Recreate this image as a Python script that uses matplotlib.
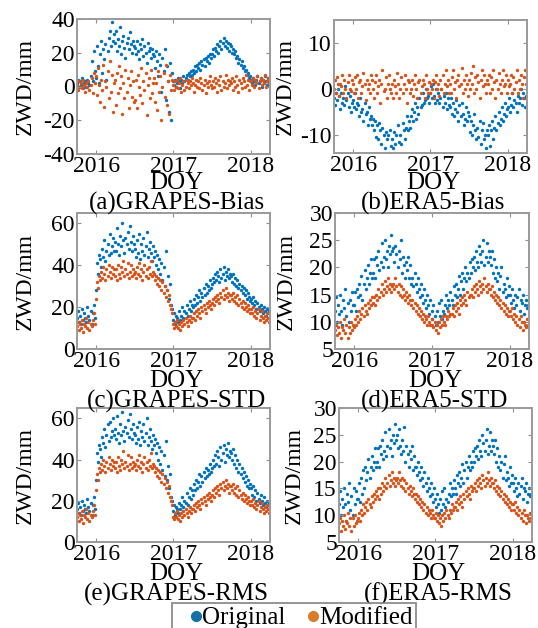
import numpy as np
import pandas as pd
import matplotlib
matplotlib.use("Agg")
import matplotlib.pyplot as plt
from matplotlib.lines import Line2D

plt.rcParams['font.family'] = ['Liberation Serif', 'DejaVu Serif']
plt.rcParams['axes.unicode_minus'] = False

# ---------------- data: samples every 5 days from 2015-10-01 ----------------
grapes_bias_orig = [
    2, 4, 0, 3, 1, 5, -1, 2, 3, 0, 4, 2, 1, 6, 15, 3, 21, 9,
    5, 24, 12, 2, 19, 27, 8, 22, 16, 25, 4, 21, 29, 33, 24, 38, 27, 31,
    26, 33, 21, 28, 24, 35, 19, 27, 30, 23, 17, 26, 29, 22, 32, 25, 20, 27, 24,
    23, 19, 27, 21, 16, 25, 22, 28, 18, 24, 20, 14, 26, 21, 23, 17, 22, 19,
    18, 11, 21, 15, 6, 19, 13, -3, 17, 9, 22, -8, 12, 3, -15, 14, -20, 8,
    3, 1, 4, 0, 2, 5, 3, -1, 4, 2, 6, 3, 5, 7, 4, 8, 6, 9, 7,
    10, 8, 12, 9, 13, 11, 14, 10, 15, 13, 16, 12, 17, 15, 18, 14, 19, 17,
    19, 22, 18, 23, 21, 25, 20, 24, 27, 22, 26, 29, 24, 27, 23, 26, 21, 25,
    24, 20, 22, 19, 21, 17, 18, 14, 16, 13, 15, 11, 12, 9, 10, 7, 8, 5, 6,
    4, 2, 5, 3, 1, 4, 6, 2, 3, 5, 0, 4, 2, 6, 3, 1, 5, 3]
grapes_bias_mod = [
    1, -2, 3, 0, 2, -1, 4, 1, -3, 2, 0, 3, -2, 1, 5, -4, 8, 2,
    6, -5, 11, 1, -9, 4, -2, 13, -12, 3, 0, 9, -7, 15, -3, 7, -15, 2,
    4, -11, 8, -4, 12, -1, 6, -16, 2, -7, 10, -3, 5, -13, 1, 9, -6, 3, -9,
    -8, 4, -13, 7, 0, -5, 11, -10, 3, -2, 8, -17, 1, 5, -7, 10, -4, 2,
    5, -9, 2, -14, 9, -3, 6, -20, 0, 8, -6, 13, -11, 3, -16, 7, -2, 4,
    1, -2, 3, 0, 4, -1, 2, 5, -3, 1, 3, -2, 0, 4, 2, -1, 3, 1, 5,
    2, -3, 1, 4, 0, 3, -1, 5, 2, -2, 1, 4, -4, 2, 0, 3, 6, 1,
    -1, 3, 0, 5, 2, -3, 4, 1, 6, -2, 3, 0, 2, 7, -1, 4, 1, 3,
    2, 5, -2, 3, 0, 6, 1, -3, 4, 2, -1, 5, 3, 0, 7, 1, 4, -2, 3,
    3, 1, 5, 0, 4, 2, 6, -1, 3, 5, 1, 4, 2, 7, 0, 3, 5, 2]

era5_bias_orig = [
    -2, -3.5, -1, -2.5, 0, -1.5, -4.5, -1, -3, -2, -3.5, 0.5, -2.5, -1, -4, -1.5, -5, -3,
    -2.5, -4, -1, -4.5, -3, -3.5, -6, -2, -5, -4.5, -7, -3, -5.5, -5, -8, -4, -6.5, -6,
    -8, -6.5, -9, -7, -10.5, -8, -11, -7.5, -9, -12, -8.5, -10, -13, -9.5, -11, -10, -14, -9, -12.5,
    -11, -13, -9.5, -12, -10, -14.5, -8, -11.5, -10, -12, -7.5, -9, -11, -8.5, -6, -9, -7, -8.5,
    -6, -4.5, -7, -5, -3, -6.5, -4, -5.5, -2, -4, -3.5, -1, -3, -2.5, 0, -2, -1.5, -3,
    -1, 0.5, -2, 1, -1.5, -3, 0, -2.5, -1, -3, -2, 0, -4, -1.5, -3, -1, -4.5, -2, -3.5,
    -4, -2, -5.5, -3, -6, -4.5, -2.5, -5, -7, -3.5, -6, -3, -5.5, -8, -6.5, -4, -7, -5,
    -6, -9.5, -7, -10, -8, -5.5, -9, -11, -8.5, -10.5, -7, -12, -9, -7.5, -11, -10, -13, -9,
    -10, -8, -12.5, -9, -7, -11, -8.5, -6, -9, -7.5, -5, -8, -6.5, -4, -7, -5.5, -3, -6, -4.5,
    -4, -2, -5, -3.5, -1, -4, -2.5, -3, -5, -1.5, -3, -2, 0, -3.5, -1, -2, -4, -1.5]
era5_bias_mod = [
    0, 2, -1, 2.5, 1, -1.5, 1, 0.5, 3, -1, 2, 0, -2, 1.5, 3, 0, -0.5, 2,
    1, -1, 2.5, 0, 3, -2, 1.5, 2, -1, 0.5, 3.5, 1, -2.5, 2, 0, 1, -1, 3,
    2, 0, -2, 1.5, 3, -1, 0.5, 2, -3, 1, 4, -0.5, 0, 2.5, -2, 1, 3, 0, -1,
    1, -2, 2, 0.5, -1, 3.5, 1, -2, 0, 2.5, -1, 1, 3, 0, -3, 2, 1.5, -1,
    0, 2, -1.5, 1, 3, 0, -2, 1.5, 2, -1, 0.5, 2, 1, -2, 3, 0, -1, 1.5,
    -1, 1, 0, 2, -2, 1.5, 3, 0, 1, -1.5, 2, 0, 3, -1, 1, 4, 0.5, 2, -1,
    1, -1, 2.5, 4, 0, 1.5, -2, 2, 3, 0.5, 1, 4.5, -1, 2, 0, 3, 1, -1.5,
    2, 0, 3.5, 1, 5, -1, 2.5, 0, 3, 1.5, -2, 2, 4, 0.5, 3, 1, -1, 2,
    1, 3, -1, 2.5, 0, 4, 1.5, -2, 2, 0, 3.5, 1, -1, 2, 4, 0.5, 1, 3, -1,
    2, 0.5, 1, 3, -1, 2.5, 0, 1.5, 4, -1, 2, 0, 3, 1, -2, 2.5, 4, 1]

grapes_std_orig = [
    15, 18, 13, 16, 12, 19, 14, 17, 15, 13, 20, 16, 14, 18, 12, 17, 21, 15,
    28, 41, 36, 45, 43, 39, 48, 44, 52, 42, 47, 50, 45, 55, 46, 49, 53, 47,
    51, 47, 58, 50, 45, 54, 49, 60, 52, 46, 53, 50, 56, 48, 59, 51, 47, 54, 50,
    48, 44, 52, 46, 55, 43, 50, 47, 53, 45, 49, 56, 44, 48, 51, 46, 42, 49,
    44, 47, 40, 45, 38, 43, 36, 41, 33, 39, 30, 47, 28, 35, 24, 31, 21, 19,
    14, 17, 12, 16, 15, 13, 18, 14, 16, 20, 15, 18, 17, 21, 16, 19, 23, 18, 21,
    20, 24, 21, 26, 22, 25, 28, 23, 27, 25, 29, 26, 31, 27, 30, 28, 33, 29,
    31, 34, 32, 36, 33, 37, 35, 32, 38, 34, 36, 39, 33, 37, 35, 38, 34, 36,
    35, 32, 36, 31, 34, 30, 33, 29, 31, 28, 30, 27, 29, 26, 28, 24, 27, 25, 23,
    24, 22, 25, 21, 23, 19, 22, 20, 18, 21, 19, 17, 20, 18, 16, 19, 17, 18]
grapes_std_mod = [
    11, 13, 9, 12, 10, 14, 8, 12, 11, 15, 10, 13, 9, 12, 11, 14, 17, 12,
    24, 32, 29, 35, 33, 37, 34, 39, 36, 33, 38, 35, 40, 37, 34, 39, 36, 38,
    35, 38, 33, 40, 36, 34, 39, 37, 42, 35, 38, 36, 41, 34, 37, 40, 35, 38, 36,
    37, 34, 39, 36, 41, 35, 38, 33, 37, 40, 35, 38, 34, 39, 36, 42, 35, 37,
    36, 33, 35, 31, 34, 30, 33, 28, 32, 27, 30, 25, 28, 23, 26, 21, 19, 17,
    12, 10, 13, 11, 14, 10, 12, 9, 13, 11, 14, 12, 15, 13, 11, 14, 16, 13, 15,
    15, 17, 14, 18, 16, 19, 17, 15, 20, 18, 21, 19, 17, 22, 20, 23, 21, 19,
    22, 24, 21, 25, 23, 26, 24, 22, 27, 25, 28, 24, 26, 29, 25, 27, 23, 26,
    26, 24, 27, 23, 25, 22, 26, 21, 24, 22, 20, 23, 19, 22, 20, 18, 21, 19, 17,
    19, 17, 20, 16, 18, 15, 17, 19, 14, 16, 18, 15, 13, 16, 14, 17, 15, 13]

era5_std_orig = [
    12, 14.5, 10, 13, 11.5, 15, 12, 9.5, 14, 12.5, 16, 11, 13.5, 10, 14, 12, 15.5, 13,
    13, 15.5, 12, 16, 14.5, 17, 15, 18.5, 14, 17, 19.5, 16, 18, 20.5, 17, 19, 21.5, 18,
    19, 21.5, 18, 22, 20.5, 23, 19.5, 21, 24.5, 20, 22, 25, 21.5, 23, 20, 24, 22.5, 26, 23,
    23.5, 21, 24, 22.5, 20, 23, 21.5, 25, 19, 22, 20.5, 18, 21, 19.5, 22, 18, 20.5, 17,
    18, 16.5, 19, 17, 15.5, 18, 16, 14.5, 17, 15, 13.5, 16, 14, 12.5, 15, 13, 11.5, 14,
    12, 10.5, 13, 11, 9.5, 12, 10, 13.5, 11, 14, 10.5, 12, 11.5, 13, 15, 12.5, 14, 13, 15.5,
    14, 13, 16.5, 15, 17, 14.5, 16, 18.5, 15, 17.5, 19, 16, 18, 20, 17.5, 19, 18, 21,
    19, 21.5, 20, 22, 19.5, 23, 21, 20, 24, 22.5, 21, 23, 25, 20.5, 22, 24.5, 21, 23,
    22, 20.5, 23, 19, 21.5, 18, 20, 17.5, 19, 16, 18.5, 20, 15.5, 17, 16, 14.5, 18, 15, 16.5,
    15, 13.5, 16, 14, 12.5, 15, 13, 14.5, 16, 12, 14, 13.5, 15, 11.5, 13, 14, 12.5, 13]
era5_std_mod = [
    8.5, 9.5, 7.5, 9, 8, 10, 7, 9, 8.5, 10.5, 8, 9.5, 7, 9, 8, 10, 8.5, 9.5,
    9, 10.5, 9.5, 11, 10, 12, 10.5, 11.5, 12.5, 11, 13, 12, 11.5, 13.5, 12.5, 14, 13, 14.5,
    13.5, 14.5, 13, 15, 14, 16, 14.5, 15.5, 17, 15, 16, 17.5, 15.5, 16.5, 18, 16, 17, 15.5, 16.5,
    17, 16, 18, 16.5, 15.5, 17, 15, 16.5, 14.5, 16, 15, 14, 15.5, 14.5, 13.5, 15, 14, 13,
    14, 12.5, 13.5, 12, 13, 11.5, 12.5, 11, 12, 10.5, 11.5, 10, 11, 10.5, 9.5, 11, 10, 9.5,
    9.5, 10.5, 9, 10, 8.5, 9.5, 8, 10, 9, 10.5, 9.5, 11, 10, 9.5, 11, 10.5, 12, 11, 11.5,
    11.5, 12.5, 11, 13, 12, 13.5, 12.5, 11.5, 14, 13, 14.5, 13.5, 15, 14, 13, 15.5, 14.5, 15,
    15, 16, 14.5, 16.5, 15.5, 17, 16, 15, 17.5, 16.5, 15.5, 17, 16, 18, 16.5, 15.5, 17, 16,
    16, 15, 16.5, 14.5, 15.5, 14, 15, 13.5, 14.5, 13, 14, 12.5, 13.5, 12, 13, 11.5, 12.5, 11, 12,
    12, 11, 12.5, 10.5, 11.5, 10, 11, 9.5, 10.5, 9, 11, 10, 8.5, 10, 9.5, 9, 10.5, 9.5]

grapes_rms_orig = [
    16, 19, 14, 17, 13, 20, 15, 18, 16, 14, 21, 17, 15, 19, 13, 18, 22, 16,
    30, 43, 39, 47, 45, 41, 51, 48, 55, 46, 52, 57, 49, 58, 51, 54, 60, 52,
    55, 50, 61, 53, 48, 57, 52, 63, 54, 49, 56, 53, 59, 51, 62, 55, 50, 57, 53,
    52, 48, 56, 50, 58, 47, 54, 51, 57, 49, 53, 60, 47, 51, 55, 49, 45, 52,
    47, 50, 43, 48, 40, 46, 38, 44, 35, 42, 32, 49, 30, 37, 26, 33, 22, 20,
    15, 18, 13, 17, 16, 14, 19, 16, 18, 22, 17, 20, 19, 24, 18, 22, 26, 21, 25,
    23, 28, 25, 30, 26, 29, 33, 27, 32, 29, 34, 31, 36, 32, 35, 33, 38, 34,
    36, 40, 37, 42, 38, 44, 41, 37, 46, 40, 43, 47, 39, 45, 42, 48, 41, 44,
    43, 40, 45, 38, 42, 36, 40, 34, 38, 33, 36, 31, 34, 29, 32, 27, 30, 26, 28,
    26, 23, 27, 22, 25, 20, 24, 21, 19, 23, 20, 18, 22, 19, 17, 20, 18, 19]
grapes_rms_mod = [
    12, 14, 10, 13, 11, 15, 9, 13, 12, 16, 11, 14, 10, 13, 12, 15, 18, 13,
    25, 33, 30, 36, 34, 38, 35, 40, 37, 34, 39, 36, 41, 38, 35, 40, 37, 39,
    36, 39, 34, 41, 37, 35, 40, 38, 44, 36, 39, 37, 42, 35, 38, 41, 36, 39, 37,
    38, 35, 40, 37, 42, 36, 39, 34, 38, 41, 36, 39, 35, 40, 37, 43, 36, 38,
    37, 34, 36, 32, 35, 31, 34, 29, 33, 28, 31, 26, 29, 24, 27, 22, 20, 18,
    12, 11, 14, 12, 15, 11, 13, 10, 14, 12, 15, 13, 16, 14, 12, 15, 17, 14, 16,
    16, 18, 15, 19, 17, 20, 18, 16, 21, 19, 22, 20, 18, 23, 21, 24, 22, 20,
    23, 25, 22, 26, 24, 27, 25, 23, 28, 26, 29, 25, 27, 30, 26, 28, 24, 27,
    27, 25, 28, 24, 26, 23, 27, 22, 25, 23, 21, 24, 20, 23, 21, 19, 22, 20, 18,
    20, 18, 21, 17, 19, 16, 18, 20, 15, 17, 19, 16, 14, 17, 15, 18, 16, 14]

era5_rms_orig = [
    12, 14.5, 10, 13, 11.5, 15, 12, 9, 14, 12.5, 16, 11, 13.5, 10, 15, 12, 14.5, 13,
    13, 16, 12.5, 17, 14, 18.5, 15, 19, 16.5, 18, 20.5, 17, 19, 21, 18.5, 20, 22.5, 19,
    20, 22.5, 19, 23, 21.5, 24, 20.5, 22, 25.5, 21, 23, 26, 22.5, 24, 21, 25, 23.5, 27, 24,
    25, 22.5, 26, 23, 21.5, 24, 22, 26.5, 20, 23, 21.5, 19, 22, 20.5, 23, 18.5, 21, 19,
    19, 17.5, 20, 18, 16.5, 19, 17, 15.5, 18, 16, 14.5, 17, 15, 13.5, 16, 14, 12.5, 15,
    13, 11.5, 14, 12, 10.5, 13, 11, 14.5, 12, 15, 11.5, 13, 12.5, 14, 16, 13.5, 15, 14, 16.5,
    15, 14, 17.5, 16, 18, 15.5, 17, 19.5, 16, 18.5, 20, 17, 19, 21, 18.5, 20, 19, 22,
    20, 22.5, 21, 23, 20.5, 24, 22, 21, 25, 23.5, 22, 24, 26, 21.5, 23, 25.5, 22, 24,
    23, 21.5, 24, 20, 22.5, 19, 21, 18.5, 20, 17, 19.5, 21, 16.5, 18, 17, 15.5, 19, 16, 17.5,
    16, 14.5, 17, 15, 13.5, 16, 14, 15.5, 17, 13, 15, 14.5, 16, 12.5, 14, 15, 13.5, 14]
era5_rms_mod = [
    8.5, 9.5, 7, 9, 8, 10, 7.5, 9, 8.5, 10.5, 8, 9.5, 7, 9.5, 8, 10, 8.5, 9,
    9.5, 10.5, 9, 11, 10, 12, 10.5, 11.5, 12.5, 11, 13, 12, 11.5, 13.5, 12.5, 14, 13, 14.5,
    13.5, 15, 13, 15, 14, 16, 14.5, 15.5, 17, 15, 16, 17.5, 15.5, 16.5, 18, 16, 17, 15.5, 16.5,
    17, 16, 18, 16.5, 15.5, 17, 15, 16.5, 14.5, 16, 15, 14, 15.5, 14.5, 13.5, 15, 14, 13,
    14, 12.5, 13.5, 12, 13, 11.5, 12.5, 11, 12, 10.5, 11.5, 10, 11, 10.5, 9.5, 11, 10, 9.5,
    9.5, 10.5, 9, 10, 8.5, 9.5, 8, 10, 9, 10.5, 9.5, 11, 10, 9.5, 11, 10.5, 12, 11, 11.5,
    11.5, 12.5, 11, 13, 12, 13.5, 12.5, 11.5, 14, 13, 14.5, 13.5, 15, 14, 13, 15.5, 14.5, 15,
    15, 16, 14.5, 16.5, 15.5, 17, 16, 15, 17.5, 16.5, 15.5, 17, 16, 18, 16.5, 15.5, 17, 16,
    16, 15, 16.5, 14.5, 15.5, 14, 15, 13.5, 14.5, 13, 14, 12.5, 13.5, 12, 13, 11.5, 12.5, 11, 12,
    12, 11, 12.5, 10.5, 11.5, 10, 11, 9.5, 10.5, 9, 11, 10, 8.5, 10, 9.5, 9, 10.5, 9.5]

titles = ['(a)GRAPES-Bias', '(b)ERA5-Bias', '(c)GRAPES-STD',
          '(d)ERA5-STD', '(e)GRAPES-RMS', '(f)ERA5-RMS']
series = [(grapes_bias_orig, grapes_bias_mod), (era5_bias_orig, era5_bias_mod),
          (grapes_std_orig, grapes_std_mod), (era5_std_orig, era5_std_mod),
          (grapes_rms_orig, grapes_rms_mod), (era5_rms_orig, era5_rms_mod)]
ylims = [(-40, 40), (-14, 15), (0, 65), (5, 30), (0, 65), (5, 30)]
yticks = [[-40, -20, 0, 20, 40], [-10, 0, 10], [0, 20, 40, 60],
          [5, 10, 15, 20, 25, 30], [0, 20, 40, 60], [5, 10, 15, 20, 25, 30]]
xticks = [2016, 2017, 2018]
labels = ['Original', 'Modified']


def to_year(n):
    d = pd.date_range('2015-10-01', periods=n, freq='5D')
    return np.asarray(d.year + (d.dayofyear - 1) / 365.25)


# ---------------- layout ----------------
W, H = 538, 628
fig = plt.figure(figsize=(W / 100, H / 100), dpi=100)
boxes = [(77, 270, 19, 154), (334, 527, 20, 153),
         (77, 270, 213, 349), (335, 529, 213, 349),
         (77, 270, 408, 542), (339, 532, 408, 542)]
ylab_x = [25, 285, 25, 286, 25, 294]
doy_y = [183, 183, 381, 381, 574, 574]
title_y = [203, 203, 401, 401, 594, 594]

c_orig = '#0072BD'
c_mod = '#D95319'
fs = 17

for i, (l, r, t, b) in enumerate(boxes):
    ax = fig.add_axes([l / W, 1 - b / H, (r - l) / W, (b - t) / H])
    orig, mod = series[i]
    ax.scatter(to_year(len(orig)), orig, s=6, color=c_orig, linewidths=0)
    ax.scatter(to_year(len(mod)), mod, s=6, color=c_mod, linewidths=0)
    ax.set_xlim(2015.75, 2018.25)
    ax.set_ylim(*ylims[i])
    ax.set_xticks(xticks)
    ax.set_xticklabels([str(v) for v in xticks])
    ax.set_yticks(yticks[i])
    ax.set_yticklabels([str(v) for v in yticks[i]])
    ax.tick_params(direction='in', length=3, width=0.8, color='#909090',
                   top=True, right=True, labelsize=fs, pad=1.5,
                   labelcolor='black')
    for sp in ax.spines.values():
        sp.set_color('#9a9a9a')
        sp.set_linewidth(1.4)
    cx = (l + r) / 2 + 3
    fig.text(ylab_x[i] / W, 1 - ((t + b) / 2) / H, 'ZWD/mm', rotation=90,
             ha='center', va='center', fontsize=fs)
    fig.text(cx / W, 1 - doy_y[i] / H, 'DOY', ha='center', va='center',
             fontsize=18)
    fig.text(cx / W, 1 - title_y[i] / H, titles[i], ha='center', va='center',
             fontsize=18)

handles = [Line2D([], [], marker='o', linestyle='none', markersize=7,
                  color='#1670A8'),
           Line2D([], [], marker='o', linestyle='none', markersize=7,
                  color='#D97D2A')]
leg = fig.legend(handles, labels, loc='upper left',
                 bbox_to_anchor=(172 / W, 1 - 603 / H), ncol=2,
                 fontsize=18, frameon=True, fancybox=False,
                 handlelength=1.6, handletextpad=-0.55, columnspacing=0.3,
                 borderpad=0.15, borderaxespad=0)
leg.get_frame().set_edgecolor('#7a7a7a')
leg.get_frame().set_linewidth(1.4)

fig.savefig('out.png', dpi=100)
